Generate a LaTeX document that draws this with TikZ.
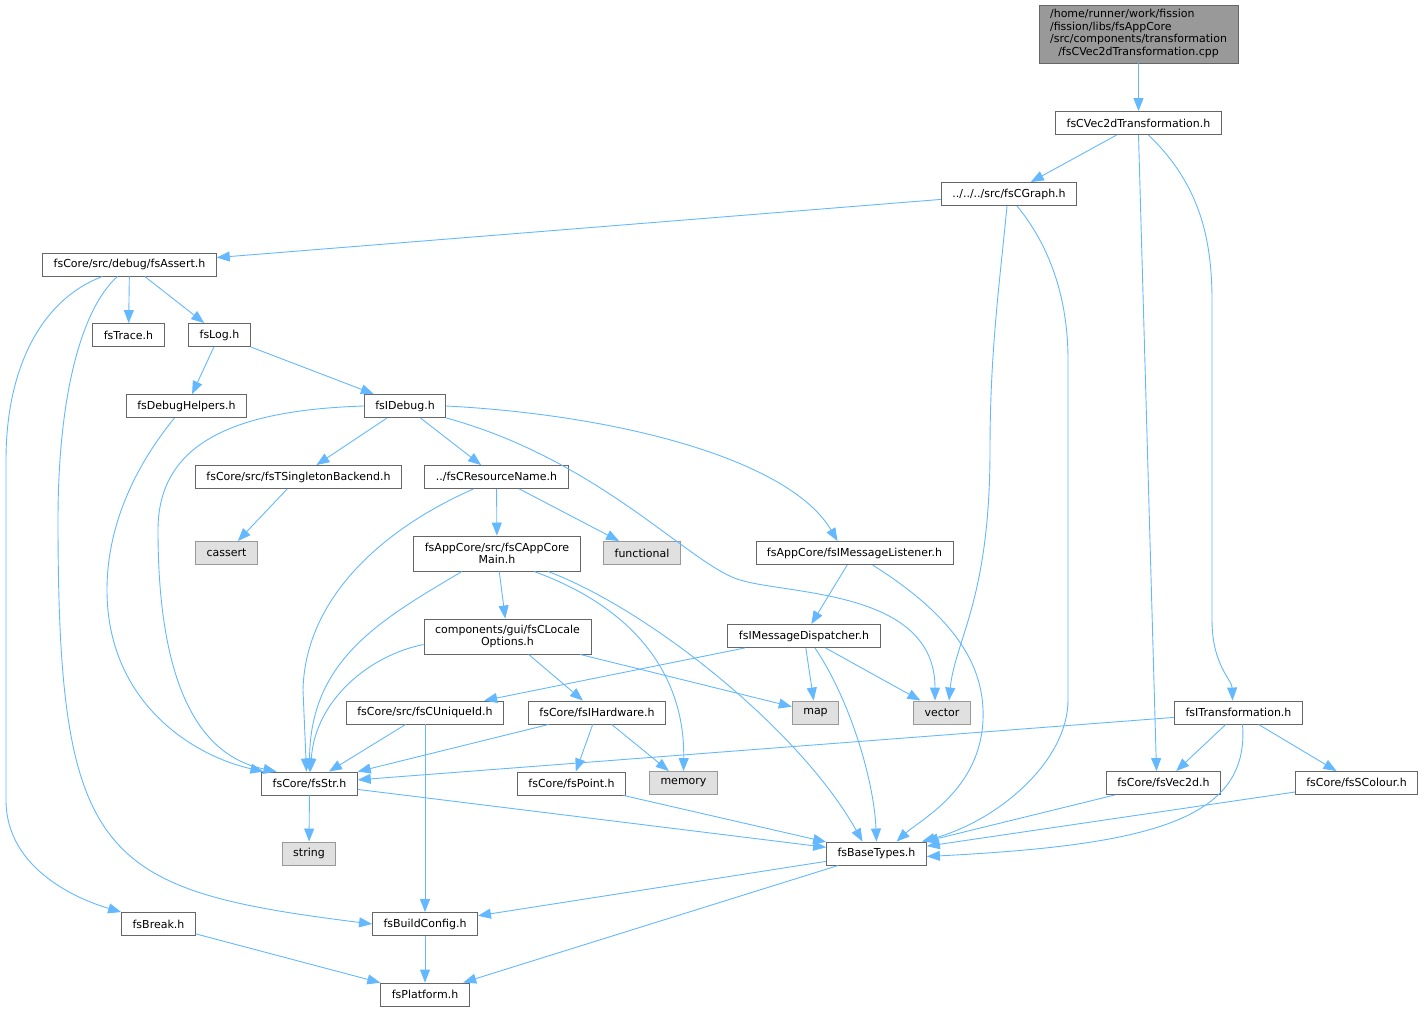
\documentclass[tikz,border=0pt]{standalone}
\usepackage{fontspec}
\setmainfont{DejaVu Sans}
\usepackage{tikz}
\usetikzlibrary{arrows.meta}

\definecolor{edgeblue}{HTML}{63B8FF}
\definecolor{boxline}{HTML}{666666}
\definecolor{sysline}{HTML}{999999}
\definecolor{sysfill}{HTML}{E0E0E0}
\definecolor{rootfill}{HTML}{999999}

\begin{document}
\begin{tikzpicture}[x=1pt,y=-1pt,->,>={Triangle[length=13pt,width=10pt]},line width=0.9pt,
  every edge/.style={draw=edgeblue},dep/.style={draw=edgeblue},
  hdr/.style={draw=boxline,fill=white,font=\fontsize{11}{12.4}\selectfont,inner xsep=11pt,inner ysep=2pt,minimum height=23pt,align=center},
  syshdr/.style={hdr,draw=sysline,fill=sysfill},
  rootbox/.style={hdr,fill=rootfill,minimum height=58pt}]
\useasboundingbox (0,0) rectangle (1424,1012);

\node[rootbox] (n0) at (1138.5,34) {\begin{tabular}{@{}l@{}}/home/runner/work/fission\\/fission/libs/fsAppCore\\/src/components/transformation\\\multicolumn{1}{@{}c@{}}{/fsCVec2dTransformation.cpp}\end{tabular}};
\node[hdr] (n1) at (1138.5,123) {fsCVec2dTransformation.h};
\node[hdr] (n2) at (1009,194) {../../../src/fsCGraph.h};
\node[hdr] (n3) at (129.5,264.5) {fsCore/src/debug/fsAssert.h};
\node[hdr] (n4) at (128.5,335) {fsTrace.h};
\node[hdr] (n5) at (219.5,335) {fsLog.h};
\node[hdr] (n6) at (186.5,406) {fsDebugHelpers.h};
\node[hdr] (n7) at (405,406) {fsIDebug.h};
\node[hdr] (n8) at (298.5,477) {fsCore/src/fsTSingletonBackend.h};
\node[hdr] (n9) at (496.5,477) {../fsCResourceName.h};
\node[syshdr] (n10) at (226.5,553) {cassert};
\node[hdr,minimum height=35pt] (n11) at (497,553.5) {fsAppCore/src/fsCAppCore\\Main.h};
\node[syshdr] (n12) at (642,553) {functional};
\node[hdr] (n13) at (854.5,553) {fsAppCore/fsIMessageListener.h};
\node[hdr,minimum height=35pt] (n14) at (507.5,636.5) {components/gui/fsCLocale\\Options.h};
\node[hdr] (n15) at (804,636) {fsIMessageDispatcher.h};
\node[hdr] (n16) at (425,712.5) {fsCore/src/fsCUniqueId.h};
\node[hdr] (n17) at (597,712.5) {fsCore/fsIHardware.h};
\node[syshdr] (n18) at (815.5,712.5) {map};
\node[syshdr] (n19) at (942,712.5) {vector};
\node[hdr] (n20) at (1238.5,712.5) {fsITransformation.h};
\node[hdr] (n21) at (309.5,783.5) {fsCore/fsStr.h};
\node[hdr] (n22) at (571.5,783.5) {fsCore/fsPoint.h};
\node[syshdr] (n23) at (683.5,783) {memory};
\node[hdr] (n24) at (1163.5,783) {fsCore/fsVec2d.h};
\node[hdr] (n25) at (1356.5,783) {fsCore/fsSColour.h};
\node[syshdr] (n26) at (309,853.5) {string};
\node[hdr] (n27) at (876.5,853.5) {fsBaseTypes.h};
\node[hdr] (n28) at (158.5,924) {fsBreak.h};
\node[hdr] (n29) at (425,924) {fsBuildConfig.h};
\node[hdr] (n30) at (425,994.5) {fsPlatform.h};

\path (n0) edge (n1);
\path (n1) edge (n2);
\path (n1.south) edge ([xshift=-7pt]n24.north);
\draw[dep] ([xshift=10pt]n1.south) .. controls (1195,180) and (1212,230) .. (1212,300) -- (1212,620) .. controls (1212,665) and (1232,680) .. ([xshift=-6pt]n20.north);
\path (n2) edge (n3);
\draw[dep] ([xshift=-2pt]n2.south) .. controls (1000,280) and (990,350) .. (990,450) .. controls (990,600) and (955,640) .. ([xshift=7pt]n19.north);
\draw[dep] ([xshift=8pt]n2.south) .. controls (1045,240) and (1068,290) .. (1068,360) -- (1068,700) .. controls (1068,760) and (1000,820) .. ([xshift=-5pt]n27.north east);
\path (n3) edge (n4);
\path (n3) edge (n5);
\draw[dep] ([xshift=-27pt]n3.south) .. controls (40,300) and (6,370) .. (6,460) -- (6,800) .. controls (6,870) and (80,900) .. (n28.north west);
\draw[dep] ([xshift=-12pt]n3.south) .. controls (80,310) and (58,400) .. (58,520) .. controls (58,860) and (100,890) .. (n29.west);
\path (n5) edge (n6);
\path (n5) edge (n7);
\draw[dep] ([xshift=-12pt]n6.south) .. controls (140,460) and (107,520) .. (107,590) .. controls (107,700) and (190,755) .. ([xshift=-46pt]n21.north);
\draw[dep] (n7.west) .. controls (240,410) and (158,440) .. (158,530) .. controls (158,720) and (220,760) .. ([xshift=-33pt]n21.north);
\path (n7) edge (n8);
\path (n7) edge (n9);
\draw[dep] (n7.east) .. controls (620,415) and (790,460) .. ([xshift=-17pt]n13.north);
\draw[dep] (n7.south east) .. controls (600,460) and (690,565) .. (740,580) .. controls (790,595) and (935,590) .. ([xshift=-7pt]n19.north);
\path (n8) edge (n10);
\path (n9) edge (n11);
\path (n9) edge (n12);
\draw[dep] ([xshift=-23pt]n9.south) .. controls (380,530) and (305,600) .. (303,690) -- ([xshift=-3pt]n21.north);
\path (n11) edge (n14);
\draw[dep] ([xshift=-35pt]n11.south) .. controls (380,620) and (310,660) .. (n21.north);
\draw[dep] ([xshift=37pt]n11.south) .. controls (640,610) and (685,680) .. (n23.north);
\draw[dep] ([xshift=51pt]n11.south) .. controls (650,610) and (800,730) .. ([xshift=-14pt]n27.north);
\draw[dep] ([yshift=-8pt]n14.west) .. controls (370,655) and (315,700) .. ([xshift=1pt]n21.north);
\path (n14) edge (n17);
\path (n14) edge (n18);
\path (n13) edge (n15);
\draw[dep] ([xshift=18pt]n13.south) .. controls (960,620) and (985,670) .. (983,720) .. controls (980,790) and (920,820) .. ([xshift=20pt]n27.north);
\path (n15) edge (n16);
\path (n15) edge (n18);
\path (n15) edge (n19);
\draw[dep] ([xshift=11pt]n15.south) .. controls (850,700) and (874,780) .. (n27.north);
\path (n16) edge (n21);
\path (n16) edge (n29);
\path (n17) edge (n21);
\path (n17) edge (n22);
\path (n17) edge (n23);
\path (n20) edge (n21);
\path (n20) edge (n24);
\path (n20) edge (n25);
\draw[dep] ([xshift=4pt]n20.south) .. controls (1250,820) and (1150,845) .. ([yshift=-3pt]n27.east);
\path (n21) edge (n26);
\path (n21) edge (n27);
\path (n22) edge (n27);
\path (n24) edge (n27);
\path (n25) edge (n27);
\path (n27) edge (n29);
\path (n27) edge (n30);
\path (n28) edge (n30);
\path (n29) edge (n30);
\end{tikzpicture}
\end{document}
